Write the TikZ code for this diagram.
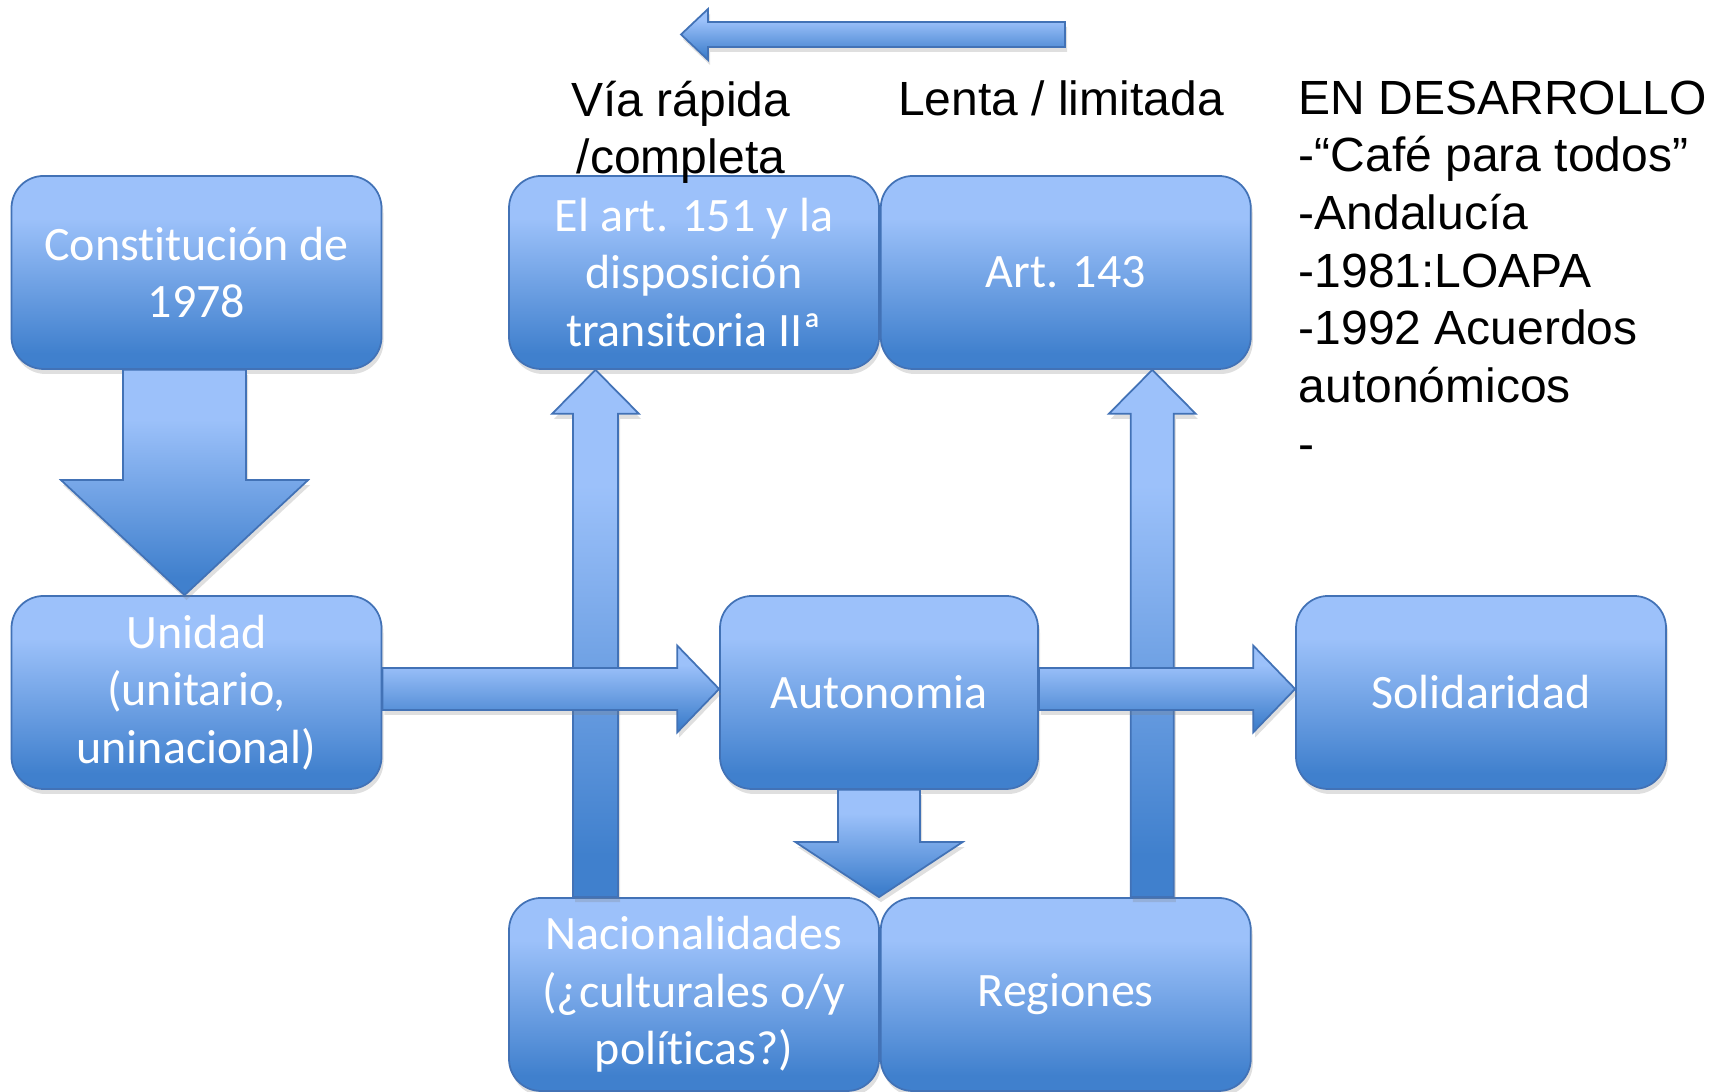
\documentclass[tikz,border=0pt]{standalone}
\usepackage{fontspec}
\setmainfont{Liberation Sans}
\newfontfamily\boxfont[Ligatures=NoCommon]{Carlito}
\usepackage{tikz}
\usetikzlibrary{positioning,calc,shadows}

\definecolor{boxtop}{RGB}{156,193,250}
\definecolor{boxbot}{RGB}{64,128,205}
\definecolor{boxline}{RGB}{66,114,182}
\pgfdeclareverticalshading{smartblue}{100bp}{color(0bp)=(boxbot); color(29bp)=(boxbot); color(64bp)=(boxtop); color(100bp)=(boxtop)}

\begin{document}
\begin{tikzpicture}[
    box/.style={rectangle, rounded corners=0.32cm, draw=boxline, line width=0.5pt, shade, shading=smartblue,
        minimum width=3.7cm, minimum height=1.93cm, inner sep=0pt, align=center, text=white,
        font=\boxfont\fontsize{13.66}{16.4}\selectfont,
        drop shadow={shadow xshift=0.02cm, shadow yshift=-0.05cm, opacity=0.25}},
    blockarrow/.style={draw=boxline, line width=0.5pt, shade, shading=smartblue,
        drop shadow={shadow xshift=0.02cm, shadow yshift=-0.05cm, opacity=0.25}},
    note/.style={inner sep=0pt, align=center, font=\fontsize{13.66}{16.4}\selectfont}
]
    \useasboundingbox (0,0) rectangle (17.21,10.92);

    % Boxes
    \node[box] (const) at (1.965,8.195) {Constitución de\\1978};
    \node[box] (unidad) at (1.965,3.995) {Unidad\\(unitario,\\uninacional)};
    \node[box] (art151) at (6.94,8.195) {El art. 151 y la\\disposición\\transitoria IIª};
    \node[box, right=0cm of art151] (art143) {Art. 143};
    \node[box, minimum width=3.18cm] (autonomia) at (8.79,3.995) {Autonomia};
    \node[box] (solidaridad) at (14.81,3.995) {Solidaridad};
    \node[box] (nacional) at (6.94,0.975) {Nacionalidades\\(¿culturales o/y\\políticas?)};
    \node[box, right=0cm of nacional] (regiones) {Regiones};

    % Labels
    \node[note, anchor=north] (rapida) at (6.81,10.12) {Vía rápida\\/completa};
    \node[note, anchor=north] (lenta) at (10.61,10.12) {Lenta / limitada};
    \node[note, anchor=north west, align=left] (desarrollo) at (12.98,10.12)
        {EN DESARROLLO\\-“Café para todos”\\-Andalucía\\-1981:LOAPA\\-1992 Acuerdos\\autonómicos\\-};

    % Constitucion -> Unidad
    \coordinate (c1) at ($(const.south)+(-0.12,0)$);
    \coordinate (c2) at ($(unidad.north)+(-0.12,0)$);
    \path[blockarrow] ($(c1)+(-0.615,0)$) -- ($(c2)+(-0.615,1.15)$) -- ($(c2)+(-1.235,1.15)$) -- (c2)
        -- ($(c2)+(1.235,1.15)$) -- ($(c2)+(0.615,1.15)$) -- ($(c1)+(0.615,0)$) -- cycle;

    % Autonomia -> Nacionalidades / Regiones
    \coordinate (d1) at (autonomia.south);
    \coordinate (d2) at (autonomia.south |- nacional.north);
    \path[blockarrow] ($(d1)+(-0.41,0)$) -- ($(d2)+(-0.41,0.55)$) -- ($(d2)+(-0.835,0.55)$) -- (d2)
        -- ($(d2)+(0.835,0.55)$) -- ($(d2)+(0.41,0.55)$) -- ($(d1)+(0.41,0)$) -- cycle;

    % Nacionalidades -> art. 151
    \coordinate (u1) at ($(nacional.north)+(-0.985,0)$);
    \coordinate (u2) at (u1 |- art151.south);
    \path[blockarrow] ($(u1)+(-0.225,0)$) -- ($(u2)+(-0.225,-0.44)$) -- ($(u2)+(-0.435,-0.44)$) -- (u2)
        -- ($(u2)+(0.435,-0.44)$) -- ($(u2)+(0.225,-0.44)$) -- ($(u1)+(0.225,0)$) -- cycle;

    % Regiones -> art. 143
    \coordinate (u3) at ($(regiones.north)+(0.865,0)$);
    \coordinate (u4) at (u3 |- art143.south);
    \path[blockarrow] ($(u3)+(-0.215,0)$) -- ($(u4)+(-0.215,-0.44)$) -- ($(u4)+(-0.435,-0.44)$) -- (u4)
        -- ($(u4)+(0.435,-0.44)$) -- ($(u4)+(0.215,-0.44)$) -- ($(u3)+(0.215,0)$) -- cycle;

    % Unidad -> Autonomia
    \coordinate (h1) at ($(unidad.east)+(0,0.035)$);
    \coordinate (h2) at (h1 -| autonomia.west);
    \path[blockarrow] ($(h1)+(0,0.21)$) -- ($(h2)+(-0.42,0.21)$) -- ($(h2)+(-0.42,0.435)$) -- (h2)
        -- ($(h2)+(-0.42,-0.435)$) -- ($(h2)+(-0.42,-0.21)$) -- ($(h1)+(0,-0.21)$) -- cycle;

    % Autonomia -> Solidaridad
    \coordinate (h3) at ($(autonomia.east)+(0,0.035)$);
    \coordinate (h4) at (h3 -| solidaridad.west);
    \path[blockarrow] ($(h3)+(0,0.21)$) -- ($(h4)+(-0.42,0.21)$) -- ($(h4)+(-0.42,0.435)$) -- (h4)
        -- ($(h4)+(-0.42,-0.435)$) -- ($(h4)+(-0.42,-0.21)$) -- ($(h3)+(0,-0.21)$) -- cycle;

    % Lenta -> rapida
    \coordinate (slow) at (10.65,10.575);
    \coordinate (fast) at (6.81,10.575);
    \path[blockarrow] ($(slow)+(0,0.125)$) -- ($(fast)+(0.27,0.125)$) -- ($(fast)+(0.27,0.255)$) -- (fast)
        -- ($(fast)+(0.27,-0.255)$) -- ($(fast)+(0.27,-0.125)$) -- ($(slow)+(0,-0.125)$) -- cycle;
\end{tikzpicture}
\end{document}
